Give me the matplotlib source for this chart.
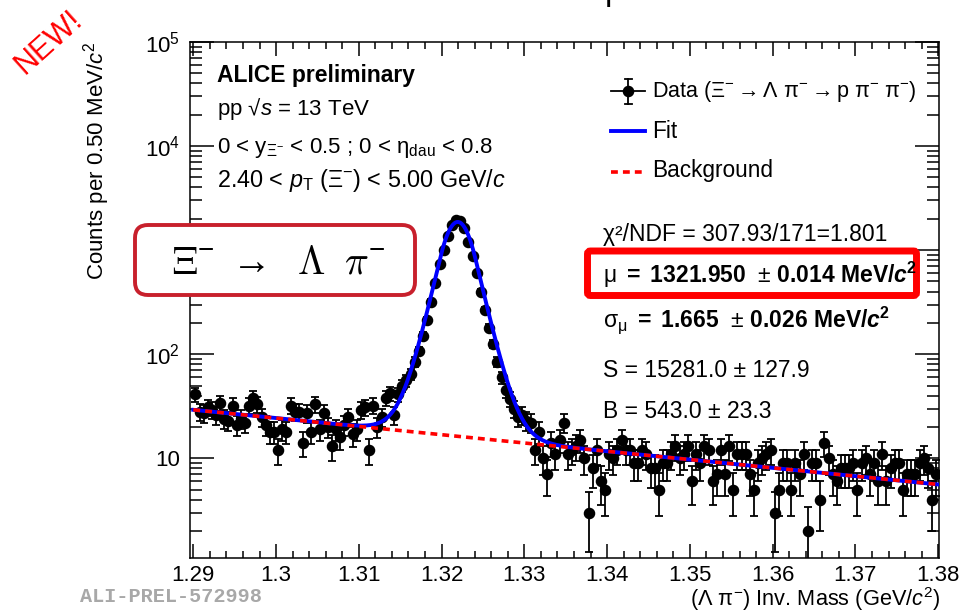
import numpy as np
import matplotlib
matplotlib.use("Agg")
import matplotlib.pyplot as plt
from matplotlib.patches import FancyBboxPatch
from matplotlib.lines import Line2D
from matplotlib.transforms import IdentityTransform
from matplotlib.ticker import FixedLocator, FixedFormatter, LogLocator, NullFormatter, MultipleLocator

plt.rcParams['font.family'] = ['Liberation Sans', 'DejaVu Sans']
plt.rcParams['mathtext.fontset'] = 'custom'
plt.rcParams['mathtext.rm'] = 'Liberation Sans'
plt.rcParams['mathtext.it'] = 'Liberation Sans:italic'
plt.rcParams['mathtext.bf'] = 'Liberation Sans:bold'
plt.rcParams['mathtext.bfit'] = 'Liberation Sans:bold:italic'
plt.rcParams['mathtext.default'] = 'regular'

# ---------------- data ----------------
mass_min = 1.29
bin_width = 0.0005  # GeV/c^2 (0.50 MeV/c^2)

counts_left = [41, 28, 27, 31, 29, 26, 34, 24, 23, 32,
               21, 24, 22, 32, 38, 33, 25, 21, 18, 18,
               12, 19, 18, 32, 28, 28, 14, 27, 18, 33,
               19, 27, 20, 13, 19, 16, 21, 25, 17, 19,
               29, 31, 12, 32, 20, 25]
counts_peak = [38, 42, 26, 41, 50, 56, 64, 84, 108, 150,
               215, 320, 480, 730, 1000, 1380, 1740, 1950, 1900, 1620,
               1200, 880, 600, 400, 265, 180, 125, 85, 60, 45,
               37, 30, 25, 26, 23, 22, 12, 18, 10, 7,
               14, 11, 15, 22, 11, 12, 13]
counts_right = [15, 10, 3, 8, 12, 6, 5, 11, 10, 12,
                15, 12, 12, 9, 9, 12, 11, 8, 8, 5,
                9, 9, 11, 13, 10, 11, 13, 6, 11, 9,
                13, 12, 6, 7, 12, 7, 13, 5, 11, 11,
                11, 7, 5, 9, 10, 11, 12, 3, 5, 9,
                9, 5, 9, 7, 11, 2, 9, 9, 4, 14,
                10, 7, 6, 8, 8, 8, 9, 5, 9, 10,
                7, 9, 6, 11, 6, 8, 9, 9, 5, 7,
                7, 7, 9, 10, 8, 4, 7]
counts = np.array(counts_left + counts_peak + counts_right, dtype=float)

# fit parameters (signal: gaussian core with exponential tails, background: exponential)
fit_mu = 1.32195
fit_sigma = 0.001665
fit_alpha = 1.3
fit_amp = 1850.0
bkg_at_min = 29.2
bkg_log10_slope = -7.97  # per GeV/c^2

x_ticks = [1.29, 1.30, 1.31, 1.32, 1.33, 1.34, 1.35, 1.36, 1.37, 1.38]
x_tick_labels = ["1.29", "1.3", "1.31", "1.32", "1.33", "1.34", "1.35", "1.36", "1.37", "1.38"]
y_ticks = [10, 100, 1000, 10000, 100000]
y_tick_labels = ["10", r"$10^{2}$", "", r"$10^{4}$", r"$10^{5}$"]  # 10^3 hidden under the decay box

# ---------------- figure ----------------
W, H = 960, 613
fig = plt.figure(figsize=(W / 100, H / 100), dpi=100)
ax_l, ax_r, ax_t, ax_b = 190, 939, 42, 558
ax = fig.add_axes([ax_l / W, 1 - ax_b / H, (ax_r - ax_l) / W, (ax_b - ax_t) / H])

def fx(x):
    return x / W

def fy(y):
    return 1 - y / H

n_bins = len(counts)
centers = mass_min + (np.arange(n_bins) + 0.5) * bin_width
errs = np.sqrt(counts)

ax.errorbar(centers, counts, yerr=errs, fmt='o', color='black', markersize=7.3,
            elinewidth=1.3, capsize=2.6, capthick=1.3, zorder=3)

def background(m):
    return bkg_at_min * 10 ** (bkg_log10_slope * (m - mass_min))

def signal(m):
    t = np.abs((m - fit_mu) / fit_sigma)
    return fit_amp * np.where(t < fit_alpha, np.exp(-t ** 2 / 2),
                              np.exp(fit_alpha ** 2 / 2 - fit_alpha * t))

mgrid = np.linspace(mass_min, mass_min + n_bins * bin_width, 1200)
ax.plot(mgrid, signal(mgrid) + background(mgrid), color='#0000ff', lw=2.8, zorder=4)
ax.plot(mgrid, background(mgrid), color='#ff0000', lw=2.6, linestyle=(0, (1.9, 1.4)),
        dash_capstyle='butt', zorder=5)

ax.set_yscale('log')
ax.set_xlim(1.2896, 1.3801)
ax.set_ylim(1.1, 1e5)

ax.xaxis.set_major_locator(FixedLocator(x_ticks))
ax.xaxis.set_major_formatter(FixedFormatter(x_tick_labels))
ax.xaxis.set_minor_locator(MultipleLocator(0.002))
ax.yaxis.set_major_locator(FixedLocator(y_ticks))
ax.yaxis.set_major_formatter(FixedFormatter(y_tick_labels))
ax.yaxis.set_minor_locator(LogLocator(base=10, subs=np.arange(2, 10)))
ax.yaxis.set_minor_formatter(NullFormatter())

ax.tick_params(axis='both', which='both', direction='in', top=True, right=True,
               width=1.1, labelsize=16, colors='black')
ax.tick_params(axis='x', which='major', length=10, pad=5)
ax.tick_params(axis='x', which='minor', length=5)
ax.tick_params(axis='y', which='major', length=17, pad=7)
ax.tick_params(axis='y', which='minor', length=8.5)
for s in ax.spines.values():
    s.set_linewidth(1.1)

# axis titles
fig.text(fx(97), fy(42), r"Counts per 0.50 MeV/$\mathit{c}^{2}$", rotation=90,
         rotation_mode='anchor', ha='right', va='center', fontsize=16)
fig.text(fx(941), fy(599), r"($\Lambda$ $\pi^{-}$) Inv. Mass (GeV/$\mathit{c}^{2}$)",
         ha='right', va='center', fontsize=15.7)

# cut-off title remnant at the very top
fig.text(fx(605), fy(0), "p", fontsize=24, va='baseline')

# top-left block
fig.text(fx(217), fy(82), "ALICE preliminary", fontsize=16.5, fontweight='bold', va='baseline')
fig.text(fx(217), fy(115), r"pp √$\mathit{s}$ = 13 TeV", fontsize=16, va='baseline')
fig.text(fx(217), fy(153), r"0 < $y_{\Xi^{-}}$ < 0.5 ; 0 < $\eta_{\rm dau}$ < 0.8", fontsize=16, va='baseline')
fig.text(fx(217), fy(187), r"2.40 < $\mathit{p}_{\rm T}$ ($\Xi^{-}$) < 5.00 GeV/$\mathit{c}$", fontsize=16.8, va='baseline')

# legend (manual, ROOT style)
fig.add_artist(Line2D([fx(611), fx(645)], [fy(91), fy(91)], color='black', lw=1.3,
                      transform=fig.transFigure))
fig.add_artist(Line2D([fx(628)], [fy(91)], marker='o', color='black', markersize=7.3,
                      transform=fig.transFigure))
fig.add_artist(Line2D([fx(628), fx(628)], [fy(79), fy(104)], color='black', lw=1.3,
                      transform=fig.transFigure))
for yy in (79, 104):
    fig.add_artist(Line2D([fx(624.5), fx(631.5)], [fy(yy), fy(yy)], color='black', lw=1.3,
                          transform=fig.transFigure))
fig.text(fx(652), fy(91), r"Data ($\Xi^{-} \rightarrow \Lambda\ \pi^{-} \rightarrow {\rm p}\ \pi^{-}\ \pi^{-}$)",
         fontsize=15.5, va='center')
fig.add_artist(Line2D([fx(611), fx(645)], [fy(131), fy(131)], color='#0000ff', lw=2.8,
                      transform=fig.transFigure))
fig.text(fx(652), fy(131), "Fit", fontsize=16.3, va='center')
fig.add_artist(Line2D([fx(611), fx(645)], [fy(172), fy(172)], color='#ff0000', lw=2.6,
                      linestyle=(0, (1.9, 1.4)), dash_capstyle='butt', transform=fig.transFigure))
fig.text(fx(652), fy(170), "Background", fontsize=16.3, va='center')

# fit results
fs_stat = 16.5
fig.text(fx(603), fy(241), "χ²/NDF = 307.93/171=1.801", fontsize=fs_stat, va='baseline')
fig.text(fx(603), fy(283), r"$\mu$ $\mathbf{=\ 1321.950}$  $\pm$ $\mathbf{0.014\ MeV/}\mathbfit{c}^{\mathbf{2}}$",
         fontsize=fs_stat, va='baseline')
fig.text(fx(603), fy(327), r"$\sigma_{\mu}$ $\mathbf{=\ 1.665}$  $\pm$ $\mathbf{0.026\ MeV/}\mathbfit{c}^{\mathbf{2}}$",
         fontsize=fs_stat, va='baseline')
fig.text(fx(603), fy(377), "S = 15281.0 ± 127.9", fontsize=fs_stat, va='baseline')
fig.text(fx(603), fy(418), "B = 543.0 ± 23.3", fontsize=fs_stat, va='baseline')

# red highlight box around mu
mu_box = FancyBboxPatch((587.5, H - 295.5), 916.5 - 587.5, 295.5 - 251,
                        boxstyle="round,pad=0,rounding_size=3", transform=IdentityTransform(),
                        facecolor='none', edgecolor='#ff0000', linewidth=5.0)
fig.add_artist(mu_box)

# decay box
decay_box = FancyBboxPatch((135, H - 295), 415 - 135, 295 - 225,
                           boxstyle="round,pad=0,rounding_size=13", transform=IdentityTransform(),
                           facecolor='white', edgecolor='#c8202c', linewidth=2.8, zorder=6)
fig.add_artist(decay_box)
fig.text(fx(278), fy(263), r"$\mathrm{\Xi}^{-}\;\rightarrow\;\;\mathrm{\Lambda}\;\;\mathit{\pi}^{-}$",
         fontsize=28.5, ha='center', va='center', math_fontfamily='cm', zorder=7)

# NEW! stamp and preliminary id
fig.text(fx(49), fy(42), "NEW!", color='#ff0000', fontsize=22, rotation=42,
         ha='center', va='center')
fig.text(fx(80), fy(597), "ALI-PREL-572998", family=['Liberation Mono', 'DejaVu Sans Mono'],
         fontweight='bold', color='#a8a8a8', fontsize=14.5, va='center')

fig.savefig("out.png", dpi=100)
